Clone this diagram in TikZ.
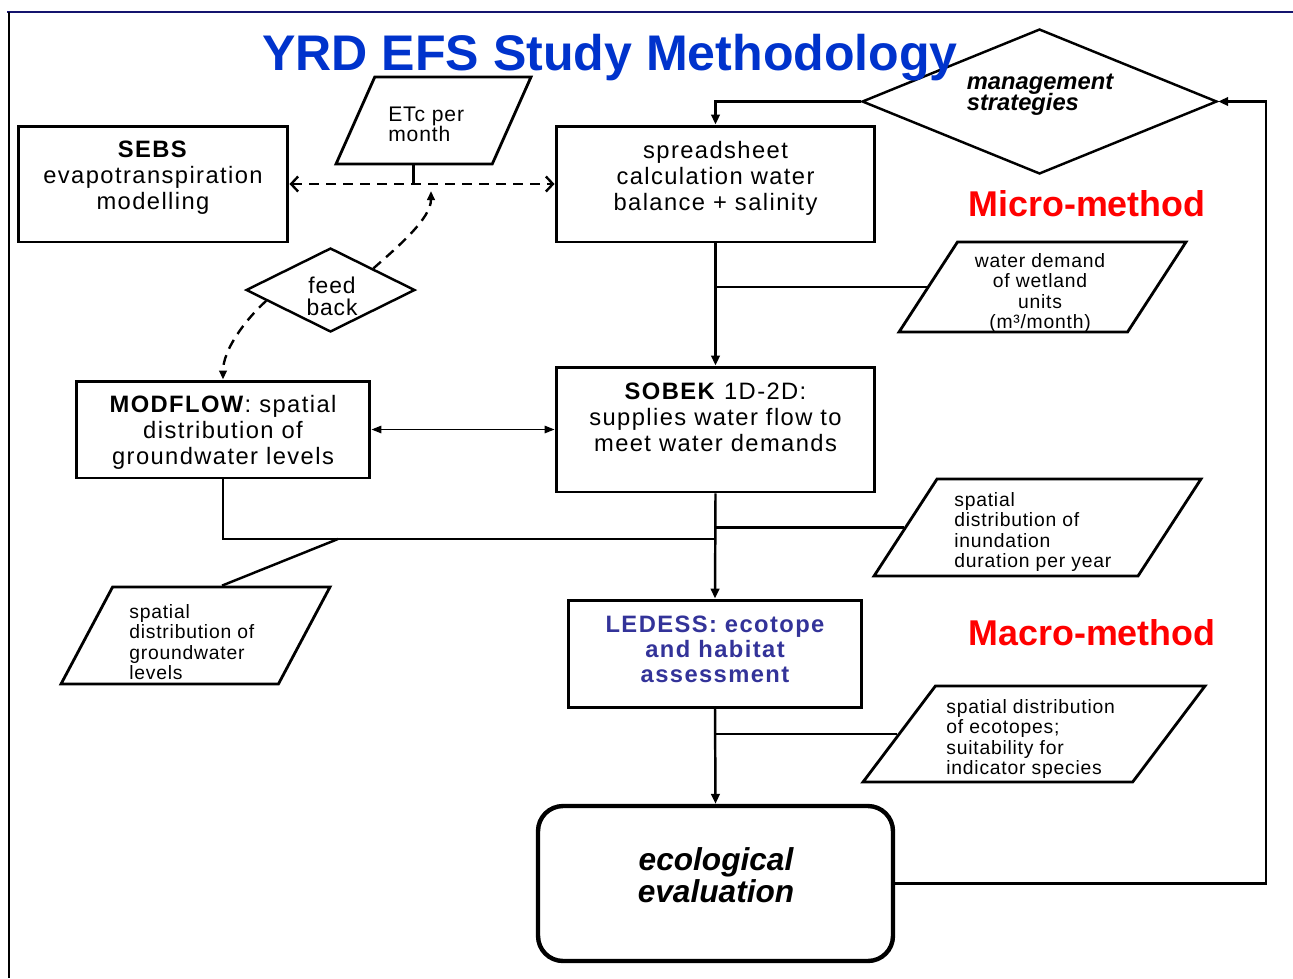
\documentclass[tikz,border=0pt]{standalone}
\usepackage{fontspec}
\setmainfont{Liberation Sans}
\newfontfamily\boxfont[LetterSpace=6]{Liberation Sans}
\newfontfamily\parfont[LetterSpace=4]{Liberation Sans}
\usetikzlibrary{shapes.geometric}
\usetikzlibrary{arrows.meta}
\usetikzlibrary{calc}
\usetikzlibrary{positioning}
\definecolor{titleBlue}{RGB}{0,51,204}
\definecolor{methodRed}{RGB}{255,0,0}
\definecolor{ledessBlue}{RGB}{51,51,153}
\definecolor{frameBlue}{RGB}{20,20,110}
\newcommand\iofill[1]{\phantom{\rule{1pt}{#1}}}

\begin{document}
\begin{tikzpicture}[x=0.02cm,y=-0.02cm,
  box/.style={draw, line width=1.7pt, inner sep=0pt},
  boxtxt/.style={align=center, inner sep=0pt, font=\boxfont\fontsize{13.5}{14.8}\selectfont},
  io/.style={draw, line width=1.6pt, trapezium, trapezium stretches body=true, inner sep=0pt},
  iotxt/.style={align=left, anchor=west, inner sep=0pt, font=\parfont\fontsize{11}{11.6}\selectfont},
  choice/.style={draw, diamond, line width=1.4pt, fill=white, inner sep=0pt},
  flow/.style={line width=1.4pt},
  tip/.style={-{Triangle[length=0.2cm,width=0.17cm]}},
  dashline/.style={line width=1.35pt, dash pattern=on 0.2cm off 0.14cm},
]
\useasboundingbox (0,0) rectangle (1293,978);
\draw [frameBlue, line width=1.2pt] (7,12) -- (1293,12);
\draw [line width=0.7pt] (9,12) -- (9,978);

% boxes
\node [box, minimum width=5.4cm, minimum height=2.32cm] (sebs) at (153,184) {};
\node [boxtxt] (sebstxt) at (153,178) {\textbf{SEBS}\\evapotranspiration\\modelling};
\node [box, minimum width=6.38cm, minimum height=2.32cm] (sheet) at (715.5,184) {};
\node [boxtxt] (sheettxt) at (715.5,178) {spreadsheet\\calculation water\\balance + salinity};
\node [box, minimum width=6.38cm, minimum height=2.5cm] (sobek) at (715.5,429.5) {};
\node [boxtxt] (sobektxt) at (715.5,417) {\textbf{SOBEK} 1D-2D:\\supplies water flow to\\meet water demands};
\node [box, minimum width=5.88cm, minimum height=1.94cm] (modflow) at (223,429.5) {};
\node [boxtxt] (modflowtxt) at (223,432) {\textbf{MODFLOW}: spatial\\distribution of\\groundwater levels};
\node [box, minimum width=5.88cm, minimum height=2.14cm] (ledess) at (715,653.5) {};
\node [boxtxt, text=ledessBlue, font=\boxfont\bfseries\fontsize{13.5}{14.2}\selectfont] (ledesstxt) at (715,649)
  {LEDESS: ecotope\\and habitat\\assessment};
\node [box, line width=2.5pt, rounded corners=0.5cm, minimum width=7.1cm, minimum height=3.1cm] (eco) at (715.5,883.5) {};
\node [align=center, inner sep=0pt, font=\bfseries\itshape\fontsize{18}{18.1}\selectfont] (ecotxt) at (716,875) {ecological\\evaluation};

% data
\node [io, trapezium left angle=66, trapezium right angle=114, minimum width=3.9cm] (etc) at (433.5,120.5) {\iofill{1.74cm}};
\node [iotxt, font=\parfont\fontsize{12}{11.3}\selectfont] (etctxt) at (388,124) {ETc per\\month};
\node [io, trapezium left angle=57, trapezium right angle=123, minimum width=5.74cm] (wd) at (1042.5,287) {\iofill{1.8cm}};
\node [iotxt, anchor=center, align=center] (wdtxt) at (1040,293) {water demand\\of wetland\\units\\(m³/month)};
\node [io, trapezium left angle=57, trapezium right angle=123, minimum width=6.54cm] (inund) at (1037.5,527.5) {\iofill{1.94cm}};
\node [iotxt] (inundtxt) at (954,532) {spatial\\distribution of\\inundation\\duration per year};
\node [io, trapezium left angle=62, trapezium right angle=118, minimum width=5.38cm] (gw) at (195.5,635.5) {\iofill{1.94cm}};
\node [iotxt] (gwtxt) at (129,642) {spatial\\distribution of\\groundwater\\levels};
\node [io, trapezium left angle=53, trapezium right angle=127, minimum width=6.84cm] (ecot) at (1034,734) {\iofill{1.92cm}};
\node [iotxt] (ecottxt) at (946,739) {spatial distribution\\of ecotopes;\\suitability for\\indicator species};

% decisions
\node [choice, minimum width=7.1cm, minimum height=2.9cm] (mgmt) at (1039.5,101.5) {};
\node [align=left, inner sep=0pt, font=\bfseries\itshape\fontsize{13.5}{11.5}\selectfont] (mgmttxt) at (1040,95) {management\\[-1.5pt]strategies};

% dashed feed back line
\coordinate (fbtip) at (431,191);
\node [choice, minimum width=3.38cm, minimum height=1.68cm] (fb) at (330.5,290) {};
\node [align=center, inner sep=0pt, font=\parfont\fontsize{13}{12.5}\selectfont] (fbtxt) at (332,296) {feed\\back};
\draw [dashline, -{Triangle[length=0.18cm,width=0.15cm]}] (fb.north east) .. controls (400,245) and (431,218) .. (fbtip);
\draw [dashline, -{Triangle[length=0.18cm,width=0.15cm]}] ($(fb.west)!0.25!(fb.south)$) .. controls (245,320) and (223,350) .. (modflow.north);

% titles
\node [anchor=base, inner sep=0pt, text=titleBlue, font=\bfseries\fontsize{28.5}{30}\selectfont] (title) at (610,70) {YRD EFS Study Methodology};
\node [anchor=base, inner sep=0pt, text=methodRed, font=\bfseries\fontsize{20.4}{22}\selectfont] (micro) at (1087,216) {Micro-method};
\node [anchor=base, inner sep=0pt, text=methodRed, font=\bfseries\fontsize{20.4}{22}\selectfont] (macro) at (1092,645) {Macro-method};

% connectors
\draw [flow] (etc.bottom side) -- (etc.bottom side |- sebs.east);
\draw [dashline, {Straight Barb[length=0.14cm,width=0.3cm]}-{Straight Barb[length=0.14cm,width=0.3cm]}] (sebs.east) -- (sheet.west);
\draw [flow, tip] (mgmt.west) -| (sheet.north);
\draw [flow, tip] (sheet.south) -- (sobek.north);
\draw [flow] (sheet.south |- wd.left side) -- (wd.left side);
\draw [line width=0.9pt, {Triangle[length=0.2cm,width=0.15cm]}-{Triangle[length=0.2cm,width=0.15cm]}] (modflow.east) -- (sobek.west);
\draw [flow, tip] (sobek.south) -- (ledess.north);
\draw [flow] (sobek.south |- inund.left side) -- (inund.left side);
\coordinate (gwjoin) at (715,539);
\coordinate (gwtap) at (338,539);
\draw [flow] (modflow.south) |- (gwjoin);
\draw [flow] (gwtap) -- (gw.top side);
\draw [flow, tip] (ledess.south) -- (eco.north);
\draw [flow] (ledess.south |- ecot.left side) -- (ecot.left side);
\draw [flow, tip] (eco.east) -| ($(mgmt.east)+(48,0)$) -- (mgmt.east);
\end{tikzpicture}
\end{document}
